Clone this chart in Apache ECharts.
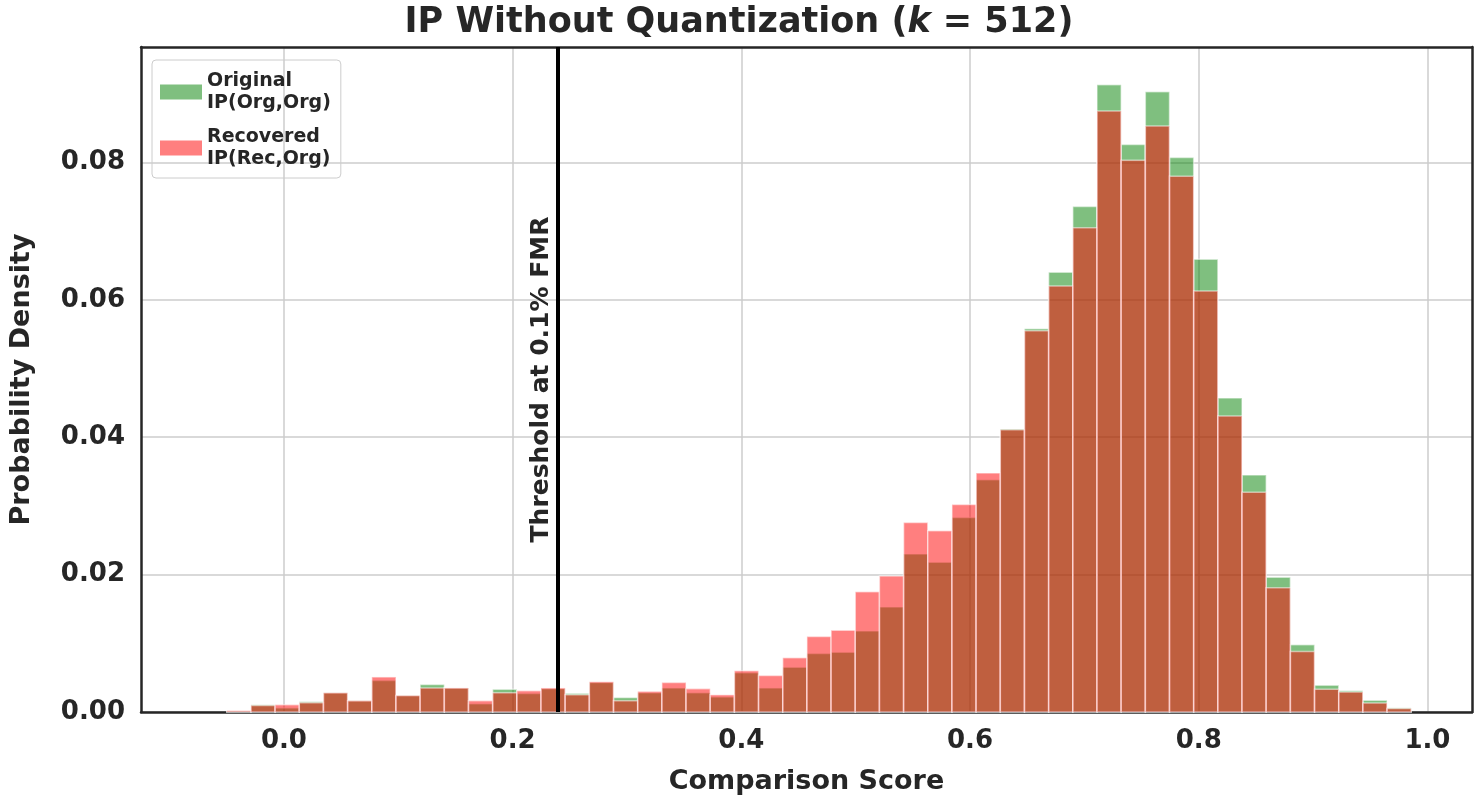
<!DOCTYPE html>
<html>
<head>
<meta charset="utf-8">
<script src="https://cdn.jsdelivr.net/npm/echarts@6/dist/echarts.min.js"></script>
<style>
  html, body { margin: 0; padding: 0; background: #fff; }
  #chart { width: 1478px; height: 802px; }
</style>
</head>
<body>
<div id="chart"></div>
<script>
// histogram bins: first edge and width
const binStart = -0.05;
const binWidth = 0.02114;

const originalDensity = [
    0.0001, 0.00105, 0.0006, 0.0015, 0.0028, 0.00165, 0.0046, 0.0024, 0.0040, 0.0035,
    0.0012, 0.0033, 0.0027, 0.0034, 0.0027, 0.0043, 0.0021, 0.0028, 0.0035, 0.0028,
    0.0022, 0.0057, 0.0035, 0.0065, 0.0085, 0.0087, 0.0118, 0.0153, 0.0230, 0.0218,
    0.0283, 0.0338, 0.0412, 0.0558, 0.0640, 0.0736, 0.0913, 0.0826, 0.0903, 0.0807,
    0.0659, 0.0457, 0.0345, 0.0196, 0.0098, 0.0039, 0.0031, 0.0017, 0.0006
];
const recoveredDensity = [
    0.0002, 0.00095, 0.00107, 0.00136, 0.0028, 0.00165, 0.0051, 0.0024, 0.0035, 0.0035,
    0.00165, 0.0028, 0.0031, 0.0035, 0.0025, 0.0044, 0.00165, 0.0030, 0.0043, 0.0034,
    0.0025, 0.0060, 0.0053, 0.0079, 0.0110, 0.0119, 0.0175, 0.0198, 0.0276, 0.0264,
    0.0302, 0.0348, 0.0411, 0.0555, 0.0620, 0.0705, 0.0875, 0.0803, 0.0853, 0.0780,
    0.0613, 0.0431, 0.0320, 0.0181, 0.0088, 0.0033, 0.0029, 0.0013, 0.0005
];
const xTicks = [0, 0.2, 0.4, 0.6, 0.8, 1.0];
const yTicks = [0, 0.02, 0.04, 0.06, 0.08];
const threshold = 0.2395;

const font = 'DejaVu Sans';
const dark = '#262626';

function toBins(values) {
    return values.map((v, i) => [binStart + i * binWidth, binStart + (i + 1) * binWidth, v]);
}

function renderBar(params, api) {
    const p0 = api.coord([api.value(0), 0]);
    const p1 = api.coord([api.value(1), api.value(2)]);
    return {
        type: 'rect',
        shape: { x: p0[0], y: p1[1], width: p1[0] - p0[0], height: p0[1] - p1[1] },
        style: { fill: api.visual('color'), opacity: 0.5, stroke: '#fff', lineWidth: 1.5 }
    };
}

const frameLine = { show: true, onZero: false, lineStyle: { color: dark, width: 2.5 } };

const chart = echarts.init(document.getElementById('chart'));
chart.setOption({
    animation: false,
    title: {
        text: '{b|IP Without Quantization (}{i|k}{b| = 512)}',
        left: 'center',
        top: 0,
        textStyle: {
            rich: {
                b: { fontFamily: font, fontWeight: 'bold', fontSize: 35, color: dark },
                i: { fontFamily: font, fontWeight: 'bold', fontStyle: 'italic', fontSize: 35, color: dark }
            }
        }
    },
    legend: {
        orient: 'vertical',
        left: 152,
        top: 60,
        padding: [10, 10, 8, 8],
        itemGap: 12,
        itemWidth: 42,
        itemHeight: 15,
        borderColor: '#ccc',
        borderWidth: 1,
        borderRadius: 4,
        textStyle: { fontFamily: font, fontWeight: 'bold', fontSize: 19, color: dark, lineHeight: 22 },
        data: [
            { name: 'Original\nIP(Org,Org)', icon: 'rect', itemStyle: { color: 'rgba(0,128,0,0.5)' } },
            { name: 'Recovered\nIP(Rec,Org)', icon: 'rect', itemStyle: { color: 'rgba(255,0,0,0.5)' } }
        ]
    },
    grid: { left: 140, right: 6, top: 47, bottom: 90 },
    xAxis: [
        {
            type: 'value',
            min: -0.125,
            max: 1.039,
            name: 'Comparison Score',
            nameLocation: 'middle',
            nameGap: 56,
            nameTextStyle: { fontFamily: font, fontWeight: 'bold', fontSize: 27, color: dark },
            axisLine: frameLine,
            axisTick: { show: false, customValues: xTicks },
            axisLabel: {
                customValues: xTicks,
                fontFamily: font, fontWeight: 'bold', fontSize: 26, color: dark, margin: 16,
                formatter: v => v.toFixed(1)
            },
            splitLine: { show: true, lineStyle: { color: '#cccccc', width: 1.5 } }
        },
        {
            type: 'value', position: 'top', min: -0.125, max: 1.039,
            axisLine: frameLine, axisTick: { show: false }, axisLabel: { show: false }, splitLine: { show: false }
        }
    ],
    yAxis: [
        {
            type: 'value',
            min: 0,
            max: 0.0968,
            name: 'Probability Density',
            nameLocation: 'middle',
            nameGap: 106,
            nameTextStyle: { fontFamily: font, fontWeight: 'bold', fontSize: 27, color: dark },
            axisLine: frameLine,
            axisTick: { show: false, customValues: yTicks },
            axisLabel: {
                customValues: yTicks,
                fontFamily: font, fontWeight: 'bold', fontSize: 26, color: dark, margin: 16,
                formatter: v => v.toFixed(2)
            },
            splitLine: { show: true, lineStyle: { color: '#cccccc', width: 1.5 } }
        },
        {
            type: 'value', position: 'right', min: 0, max: 0.0968,
            axisLine: frameLine, axisTick: { show: false }, axisLabel: { show: false }, splitLine: { show: false }
        }
    ],
    series: [
        {
            name: 'Original\nIP(Org,Org)',
            type: 'custom',
            renderItem: renderBar,
            itemStyle: { color: 'rgb(0,128,0)' },
            encode: { x: [0, 1], y: 2 },
            data: toBins(originalDensity)
        },
        {
            name: 'Recovered\nIP(Rec,Org)',
            type: 'custom',
            renderItem: renderBar,
            itemStyle: { color: 'rgb(255,0,0)' },
            encode: { x: [0, 1], y: 2 },
            data: toBins(recoveredDensity),
            markLine: {
                symbol: 'none',
                silent: true,
                lineStyle: { color: '#000', width: 4, type: 'solid' },
                label: {
                    show: true,
                    position: 'insideMiddleTop',
                    formatter: 'Threshold at 0.1% FMR',
                    fontFamily: font, fontWeight: 'bold', fontSize: 25, color: dark,
                    distance: 4
                },
                data: [[{ coord: [threshold, 0] }, { coord: [threshold, 0.0968] }]]
            }
        }
    ]
});
</script>
</body>
</html>
